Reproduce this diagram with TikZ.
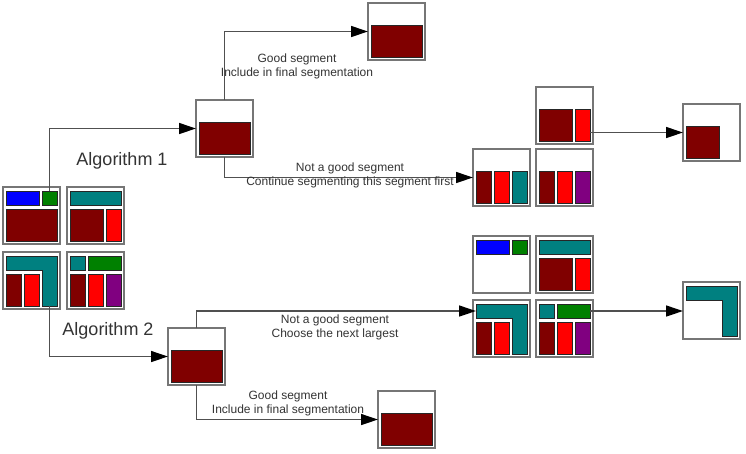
\documentclass[tikz,border=0pt]{standalone}
\usepackage{fontspec}
\setmainfont{Liberation Sans}
\usepackage{tikz}
\usetikzlibrary{arrows.meta,positioning,calc}

\definecolor{segmaroon}{HTML}{800000}
\definecolor{segred}{HTML}{FF0000}
\definecolor{segblue}{HTML}{0000FF}
\definecolor{seggreen}{HTML}{008000}
\definecolor{segteal}{HTML}{008080}
\definecolor{segpurple}{HTML}{800080}
\definecolor{framegray}{HTML}{767676}
\definecolor{linegray}{HTML}{505050}
\definecolor{textgray}{HTML}{333333}

% coloured segment in a frame: name, frame, x, y, width, height, colour
\newcommand{\seg}[7]{%
  \node[segment, fill=#7, minimum width=#5pt, minimum height=#6pt]
    (#1) at ([shift={(#3,#4)}]#2.north west) {};}
% L-shaped teal segment: name, frame
\newcommand{\segL}[2]{%
  \node[segment, draw=none, fill=segteal, minimum width=51pt, minimum height=14pt]
    (#1bar) at ([shift={(3,4)}]#2.north west) {};
  \node[segment, draw=none, fill=segteal, minimum width=15pt, minimum height=50pt]
    (#1stem) at ([shift={(39,4)}]#2.north west) {};
  \draw[segline] (#1bar.north west) -- (#1stem.north east) -- (#1stem.south east)
    -- (#1stem.south west) -- (#1stem.west |- #1bar.south) -- (#1bar.south west) -- cycle;}

\begin{document}
\begin{tikzpicture}
  [x=1pt, y=-1pt,
  frame/.style={draw=framegray, line width=1.6pt, fill=white, anchor=north west,
    minimum size=57pt, inner sep=0pt, outer sep=0pt},
  segment/.style={draw=black!85, line width=0.8pt, anchor=north west,
    inner sep=0pt, outer sep=0pt},
  segline/.style={draw=black!85, line width=0.8pt},
  ]
  \tikzstyle{link}=[draw=linegray, line width=1.3pt,
    -{Triangle[length=17pt,width=11pt,color=black,fill=black]}]
  \tikzstyle{alglabel}=[text=textgray, font=\fontsize{18}{20}\selectfont]
  \tikzstyle{note}=[text=textgray, align=center, inner sep=0pt, font=\fontsize{12}{14}\selectfont]
\useasboundingbox (0,0) rectangle (746,453);

% frames
\node[frame] (in1) at (3,187) {};
\node[frame] (in2) at (67,187) {};
\node[frame] (in3) at (3,252) {};
\node[frame] (in4) at (67,252) {};
\node[frame] (a1seg) at (196,100) {};
\node[frame] (a1good) at (368,3) {};
\node[frame] (a1up) at (536,87) {};
\node[frame] (a1r1) at (473,149) {};
\node[frame] (a1r2) at (536,149) {};
\node[frame] (a1fin) at (683,104) {};
\node[frame] (a2seg) at (168,328) {};
\node[frame] (a2good) at (378,391) {};
\node[frame] (a2u1) at (473,236) {};
\node[frame] (a2u2) at (536,236) {};
\node[frame] (a2l1) at (473,300) {};
\node[frame] (a2l2) at (536,300) {};
\node[frame] (a2fin) at (683,282) {};

% segments
\seg{in1b}{in1}{3}{4}{33}{14}{segblue}
\seg{in1g}{in1}{39}{4}{15}{14}{seggreen}
\seg{in1m}{in1}{3}{22}{51}{32}{segmaroon}
\seg{in2t}{in2}{3}{4}{51}{14}{segteal}
\seg{in2m}{in2}{3}{22}{33}{32}{segmaroon}
\seg{in2r}{in2}{39}{22}{15}{32}{segred}
\segL{in3L}{in3}
\seg{in3m}{in3}{3}{22}{15}{32}{segmaroon}
\seg{in3r}{in3}{21}{22}{15}{32}{segred}
\seg{in4t}{in4}{3}{4}{15}{14}{segteal}
\seg{in4g}{in4}{21}{4}{33}{14}{seggreen}
\seg{in4m}{in4}{3}{22}{15}{32}{segmaroon}
\seg{in4r}{in4}{21}{22}{15}{32}{segred}
\seg{in4p}{in4}{39}{22}{15}{32}{segpurple}

\seg{a1segm}{a1seg}{3}{22}{51}{32}{segmaroon}
\seg{a1goodm}{a1good}{3}{22}{51}{32}{segmaroon}
\seg{a1upm}{a1up}{3}{22}{33}{32}{segmaroon}
\seg{a1upr}{a1up}{39}{22}{15}{32}{segred}
\seg{a1r1m}{a1r1}{3}{22}{15}{32}{segmaroon}
\seg{a1r1r}{a1r1}{21}{22}{15}{32}{segred}
\seg{a1r1t}{a1r1}{39}{22}{15}{32}{segteal}
\seg{a1r2m}{a1r2}{3}{22}{15}{32}{segmaroon}
\seg{a1r2r}{a1r2}{21}{22}{15}{32}{segred}
\seg{a1r2p}{a1r2}{39}{22}{15}{32}{segpurple}
\seg{a1finm}{a1fin}{3}{22}{33}{32}{segmaroon}

\seg{a2segm}{a2seg}{3}{22}{51}{32}{segmaroon}
\seg{a2goodm}{a2good}{3}{22}{51}{32}{segmaroon}
\seg{a2u1b}{a2u1}{3}{4}{33}{14}{segblue}
\seg{a2u1g}{a2u1}{39}{4}{15}{14}{seggreen}
\seg{a2u2t}{a2u2}{3}{4}{51}{14}{segteal}
\seg{a2u2m}{a2u2}{3}{22}{33}{32}{segmaroon}
\seg{a2u2r}{a2u2}{39}{22}{15}{32}{segred}
\segL{a2l1L}{a2l1}
\seg{a2l1m}{a2l1}{3}{22}{15}{32}{segmaroon}
\seg{a2l1r}{a2l1}{21}{22}{15}{32}{segred}
\seg{a2l2t}{a2l2}{3}{4}{15}{14}{segteal}
\seg{a2l2g}{a2l2}{21}{4}{33}{14}{seggreen}
\seg{a2l2m}{a2l2}{3}{22}{15}{32}{segmaroon}
\seg{a2l2r}{a2l2}{21}{22}{15}{32}{segred}
\seg{a2l2p}{a2l2}{39}{22}{15}{32}{segpurple}
\segL{a2finL}{a2fin}

% connectors
\draw[link] (in1g.north) |- (a1seg.west);
\draw[link] (a1seg.north) |- (a1good.west);
\draw[link] (a1seg.south) |- (a1r1.west);
\draw[link] (a1upr.east |- a1fin.west) -- (a1fin.west);
\draw[link] (in3Lstem.south) |- (a2seg.west);
\draw[link] (a2seg.north) |- (a2l1Lbar.west);
\draw[link] (a2seg.south) |- (a2good.west);
\draw[link] (a2l2g.east) -- (a2l2g.east -| a2fin.west);

% labels
\node[alglabel] (alg1) at (122,161) {Algorithm 1};
\node[alglabel] (alg2) at (108,331) {Algorithm 2};
\node[note] (a1goodtxt) at (297,66) {Good segment\\Include in final segmentation};
\node[note] (a1nottxt) at (350,175.5) {Not a good segment\\Continue segmenting this segment first};
\node[note] (a2nottxt) at (335,327) {Not a good segment\\Choose the next largest};
\node[note] (a2goodtxt) at (288,403.5) {Good segment\\Include in final segmentation};
\end{tikzpicture}
\end{document}
